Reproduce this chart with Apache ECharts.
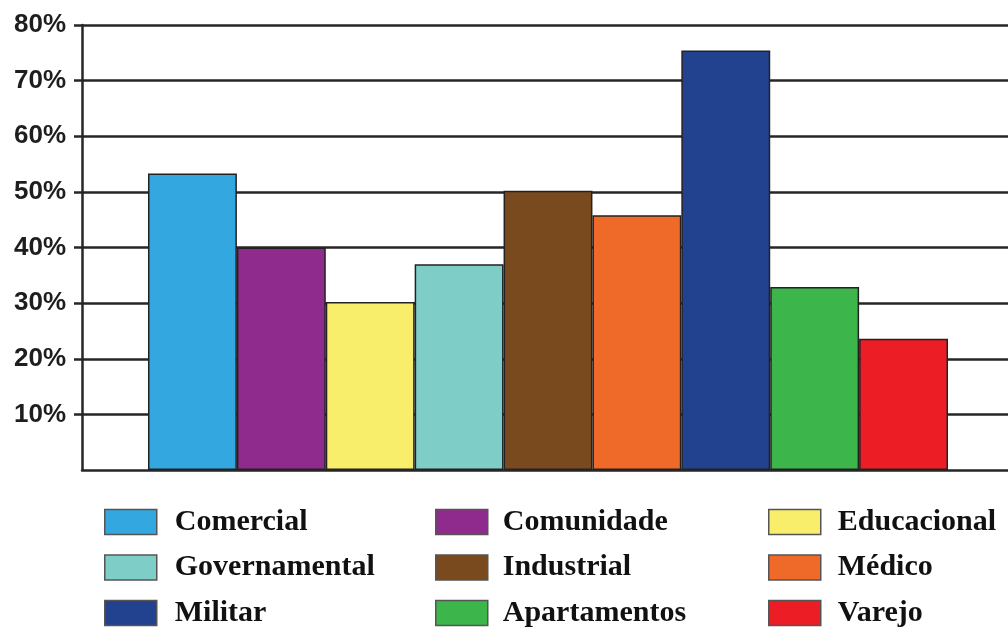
<!DOCTYPE html>
<html>
<head>
<meta charset="utf-8">
<title>Percentual por setor</title>
<script src="https://cdn.jsdelivr.net/npm/echarts@6/dist/echarts.min.js"></script>
<style>
  html, body { margin: 0; padding: 0; background: #ffffff; }
  #chart { width: 1008px; height: 628px; }
</style>
</head>
<body>
<div id="chart"></div>
<script>
// Sectors, in the order the bars are drawn
const categories = ['Comercial', 'Comunidade', 'Educacional', 'Governamental', 'Industrial',
                    'Médico', 'Militar', 'Apartamentos', 'Varejo'];
// Percentage for each sector
const values = [53.3, 40.0, 30.2, 37.0, 50.2, 45.8, 75.4, 32.9, 23.6];
// Fill colour of each sector
const colors = ['#33a8e0', '#8f2b8d', '#f8ee6b', '#7ecdc6', '#7a4a1f',
                '#ef6a29', '#22418f', '#3cb54b', '#ec1d25'];
// Value axis ticks (0 is left unlabelled)
const yTicks = [0, 10, 20, 30, 40, 50, 60, 70, 80];

// Legend layout: three columns of three entries
const legendColumns = [
  ['Comercial', 'Governamental', 'Militar'],
  ['Comunidade', 'Industrial', 'Apartamentos'],
  ['Educacional', 'Médico', 'Varejo']
];

const chart = echarts.init(document.getElementById('chart'), null, { renderer: 'canvas' });

const lineColor = '#262626';
const plotTop = 25;
const plotBottom = 158;

// One series per sector so that each sector gets its own legend entry;
// stacking keeps every bar on the full width of its category.
const series = categories.map((name, i) => ({
  name: name,
  type: 'bar',
  xAxisIndex: 1,
  yAxisIndex: 1,
  stack: 'setor',
  barWidth: '100%',
  data: categories.map((_, j) => (j === i ? values[i] : '-')),
  itemStyle: { color: colors[i], borderColor: '#222', borderWidth: 1.5 },
  emphasis: { disabled: true },
  z: 3
}));

// One legend component per entry, placed on a 3x3 grid
const colLefts = [104, 435, 768];
const colTextPad = [13, 10, 12];
const rowTops = [507, 552.5, 598];

const legends = [];
legendColumns.forEach((names, c) => {
  names.forEach((name, r) => {
    legends.push({
      orient: 'horizontal',
      left: colLefts[c],
      top: rowTops[r],
      padding: 0,
      itemWidth: 52,
      itemHeight: 25,
      icon: 'rect',
      selectedMode: false,
      data: [name],
      itemStyle: { borderColor: '#555', borderWidth: 1.5 },
      textStyle: {
        fontFamily: 'Liberation Serif, Times New Roman, serif',
        fontWeight: 'bold',
        fontSize: 30,
        color: '#111',
        padding: [0, 0, 0, colTextPad[c]]
      }
    });
  });
});

const option = {
  backgroundColor: '#ffffff',
  animation: false,
  legend: legends,
  grid: [
    // frame, ticks and gridlines
    { left: 82, right: 0, top: plotTop, bottom: plotBottom, containLabel: false },
    // bar area
    { left: 148, width: 800, top: plotTop, bottom: plotBottom, containLabel: false }
  ],
  xAxis: [
    {
      gridIndex: 0, type: 'value', min: 0, max: 1,
      axisLine: { show: true, onZero: false, lineStyle: { color: lineColor, width: 2.5 } },
      axisTick: { show: false }, axisLabel: { show: false }, splitLine: { show: false }
    },
    {
      gridIndex: 1, type: 'category', data: categories, show: false,
      boundaryGap: true
    }
  ],
  yAxis: [
    {
      gridIndex: 0, type: 'value',
      min: yTicks[0], max: yTicks[yTicks.length - 1], interval: 10,
      axisLine: { show: true, lineStyle: { color: lineColor, width: 2.5 } },
      axisTick: {
        show: true, inside: false, length: 8,
        customValues: yTicks.slice(1),
        lineStyle: { color: lineColor, width: 2.5 }
      },
      splitLine: { show: true, lineStyle: { color: lineColor, width: 2.5 } },
      axisLabel: {
        margin: 16,
        customValues: yTicks.slice(1),
        fontFamily: 'Liberation Sans, Arial, sans-serif',
        fontWeight: 'bold',
        fontSize: 26,
        color: '#1e1e1e',
        formatter: v => v + '%'
      }
    },
    {
      gridIndex: 1, type: 'value',
      min: yTicks[0], max: yTicks[yTicks.length - 1], show: false
    }
  ],
  series: series
};

chart.setOption(option);
</script>
</body>
</html>
